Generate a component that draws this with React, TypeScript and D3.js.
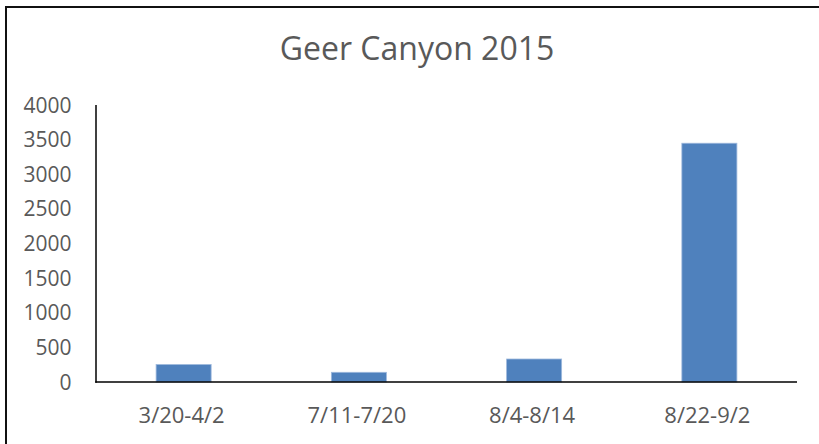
import React from "react";
import * as d3 from "d3";

const categories: string[] = ["3/20-4/2", "7/11-7/20", "8/4-8/14", "8/22-9/2"];
const values: number[] = [252, 140, 332, 3448];
const yTicks: number[] = [0, 500, 1000, 1500, 2000, 2500, 3000, 3500, 4000];
const title = "Geer Canyon 2015";

const W = 819;
const H = 444;
const plot = { left: 96, right: 797, top: 105, bottom: 382 };
const font = "'Open Sans', sans-serif";
const textColor = "#595959";

export default function App() {
  const x = d3
    .scaleBand<string>()
    .domain(categories)
    .range([plot.left, plot.right])
    .paddingInner(0.686)
    .paddingOuter(0.343);
  const y = d3.scaleLinear().domain([0, 4000]).range([plot.bottom, plot.top]);

  return (
    <svg
      width={W}
      height={H}
      style={{ position: "absolute", left: 0, top: 0, display: "block", background: "#fff" }}
    >
      <rect x={0} y={0} width={W} height={H} fill="#fff" />
      {/* frame */}
      <line x1={5} x2={W} y1={7} y2={7} stroke="#111" strokeWidth={2} />
      <line x1={6} x2={6} y1={6} y2={H} stroke="#111" strokeWidth={2} />
      {/* title */}
      <text
        x={417}
        y={60}
        textAnchor="middle"
        fontFamily={font}
        fontSize={32}
        fill={textColor}
      >
        {title}
      </text>
      {/* bars */}
      {categories.map((c, i) => (
        <rect
          key={c}
          x={x(c)!}
          y={y(values[i])}
          width={x.bandwidth()}
          height={y(0) - y(values[i])}
          fill="#4F81BD"
          stroke="#9DB8DC"
          strokeWidth={0.8}
        />
      ))}
      {/* y tick labels */}
      {yTicks.map((t) => (
        <text
          key={t}
          x={71.5}
          y={y(t)}
          dy="0.36em"
          textAnchor="end"
          fontFamily={font}
          fontSize={21}
          fill={textColor}
        >
          {t}
        </text>
      ))}
      {/* x labels */}
      {categories.map((c) => (
        <text
          key={c}
          x={x(c)! + x.bandwidth() / 2 - 2}
          y={415}
          dy="0.36em"
          textAnchor="middle"
          fontFamily={font}
          fontSize={22}
          fill={textColor}
        >
          {c}
        </text>
      ))}
      {/* axes */}
      <line x1={plot.left} x2={plot.left} y1={plot.top} y2={plot.bottom + 0.75} stroke="#000" strokeWidth={1.5} />
      <line x1={plot.left - 0.75} x2={plot.right} y1={plot.bottom} y2={plot.bottom} stroke="#000" strokeWidth={1.5} />
    </svg>
  );
}
